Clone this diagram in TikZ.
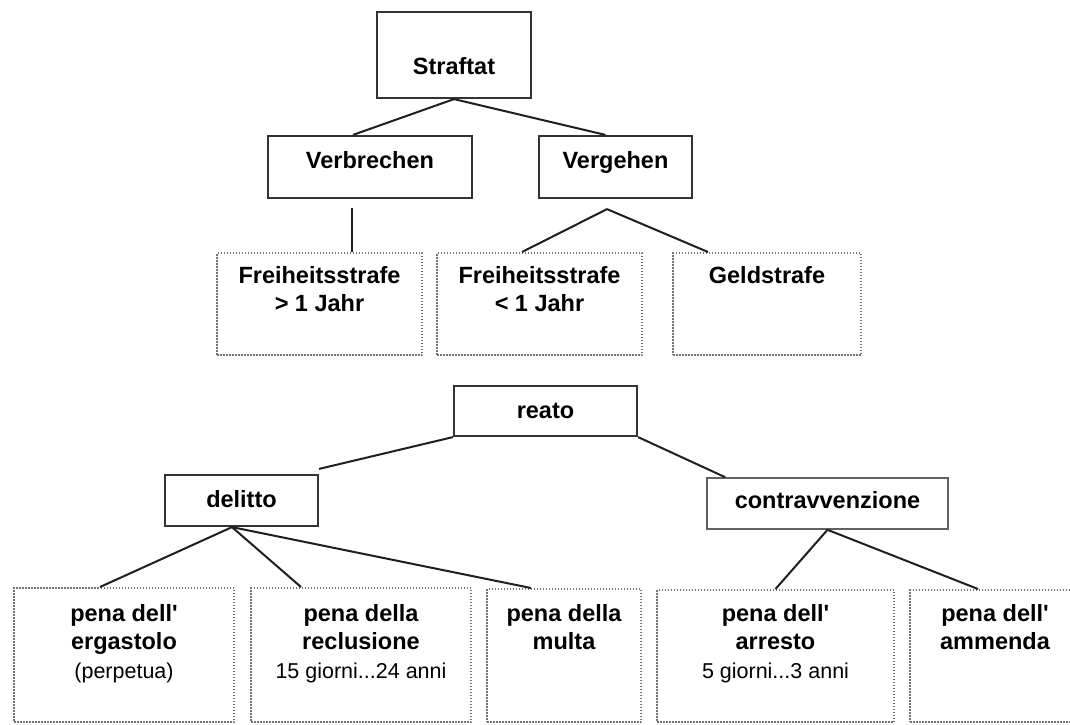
\documentclass[tikz,border=0pt]{standalone}
\usepackage{fontspec}
\setmainfont{Liberation Sans}
\usetikzlibrary{calc}
\tikzset{
  solidbox/.style={draw=black!80, line width=2.2pt, inner sep=0pt},
  thinbox/.style={draw=black!62, line width=1.6pt, inner sep=0pt},
  dotbox/.style={draw=black!55, line width=2pt, dash pattern=on 1.5pt off 1.5pt, inner sep=0pt},
  lbl/.style={font=\fontsize{23.5}{28.5}\selectfont\bfseries, inner sep=0pt, align=center, text=black},
  conn/.style={draw=black!88, line width=2pt},
}
\newcommand{\smalltxt}[1]{{\mdseries\fontsize{21.5}{27}\selectfont #1}}
\begin{document}
\begin{tikzpicture}[x=1pt,y=-1pt]
\useasboundingbox[fill=white] (0,0) rectangle (1070,724);
% German tree
\node[solidbox, minimum width=154pt, minimum height=86pt] (straftat) at (454,55) {};
\node[solidbox, minimum width=204pt, minimum height=62pt] (verbrechen) at (370,167) {};
\node[solidbox, minimum width=153pt, minimum height=62pt] (vergehen) at (615.5,167) {};
\node[dotbox, minimum width=205pt, minimum height=102pt] (fs1) at (319.5,304) {};
\node[dotbox, minimum width=205pt, minimum height=102pt] (fs2) at (539.5,304) {};
\node[dotbox, minimum width=188pt, minimum height=102pt] (geld) at (767,304) {};
\node[lbl, anchor=base] (tstraftat) at (454,74) {Straftat};
\node[lbl, anchor=base] (tverbrechen) at (370,168) {Verbrechen};
\node[lbl, anchor=base] (tvergehen) at (615.5,168) {Vergehen};
\node[lbl, anchor=north] (tfs1) at (319.5,266) {Freiheitsstrafe\\> 1 Jahr};
\node[lbl, anchor=north] (tfs2) at (539.5,266) {Freiheitsstrafe\\< 1 Jahr};
\node[lbl, anchor=base] (tgeld) at (767,283) {Geldstrafe};
\draw[conn] (straftat.south) -- ([xshift=-17pt]verbrechen.north);
\draw[conn] (straftat.south) -- ([xshift=-10pt]vergehen.north);
\draw[conn] ([xshift=-18pt,yshift=-9pt]verbrechen.south) coordinate (vb) -- (vb |- fs1.north);
\draw[conn] ([xshift=-8.5pt,yshift=-10pt]vergehen.south) coordinate (vg) -- ([xshift=-17.5pt]fs2.north);
\draw[conn] (vg) -- ([xshift=-59pt]geld.north);
% Italian tree
\node[solidbox, minimum width=183pt, minimum height=50pt] (reato) at (545.5,411) {};
\node[solidbox, minimum width=153pt, minimum height=51pt] (delitto) at (241.5,500.5) {};
\node[thinbox, minimum width=241pt, minimum height=51pt] (contra) at (827.5,503.5) {};
\node[dotbox, minimum width=220pt, minimum height=134pt] (erg) at (124,655) {};
\node[dotbox, minimum width=220pt, minimum height=134pt] (recl) at (361,655) {};
\node[dotbox, minimum width=154pt, minimum height=133pt] (multa) at (564,655.5) {};
\node[dotbox, minimum width=237pt, minimum height=132pt] (arresto) at (775.5,656) {};
\node[dotbox, minimum width=170pt, minimum height=132pt] (ammenda) at (995,656) {};
\node[lbl, anchor=base] (treato) at (545.5,418) {reato};
\node[lbl, anchor=base] (tdelitto) at (241.5,507) {delitto};
\node[lbl, anchor=base] (tcontra) at (827.5,508) {contravvenzione};
\node[lbl, anchor=north] (terg) at (124,604) {pena dell\textquotesingle\\ergastolo\\\smalltxt{(perpetua)}};
\node[lbl, anchor=north] (trecl) at (361,604) {pena della\\reclusione\\\smalltxt{15 giorni...24 anni}};
\node[lbl, anchor=north] (tmulta) at (564,604) {pena della\\multa};
\node[lbl, anchor=north] (tarresto) at (775.5,604) {pena dell\textquotesingle\\arresto\\\smalltxt{5 giorni...3 anni}};
\node[lbl, anchor=north] (tammenda) at (995,604) {pena dell\textquotesingle\\ammenda};
\draw[conn] (reato.south west) -- ([yshift=5pt]delitto.north east);
\draw[conn] (reato.south east) -- ([xshift=19pt]contra.north west);
\draw[conn] ([xshift=-9.5pt]delitto.south) coordinate (dl) -- ([xshift=-24pt]erg.north);
\draw[conn] (dl) -- ([xshift=-60pt]recl.north);
\draw[conn] (dl) -- ([xshift=45pt]multa.north west);
\draw[conn] (contra.south) -- (arresto.north);
\draw[conn] (contra.south) -- ([xshift=69pt]ammenda.north west);
\end{tikzpicture}
\end{document}
